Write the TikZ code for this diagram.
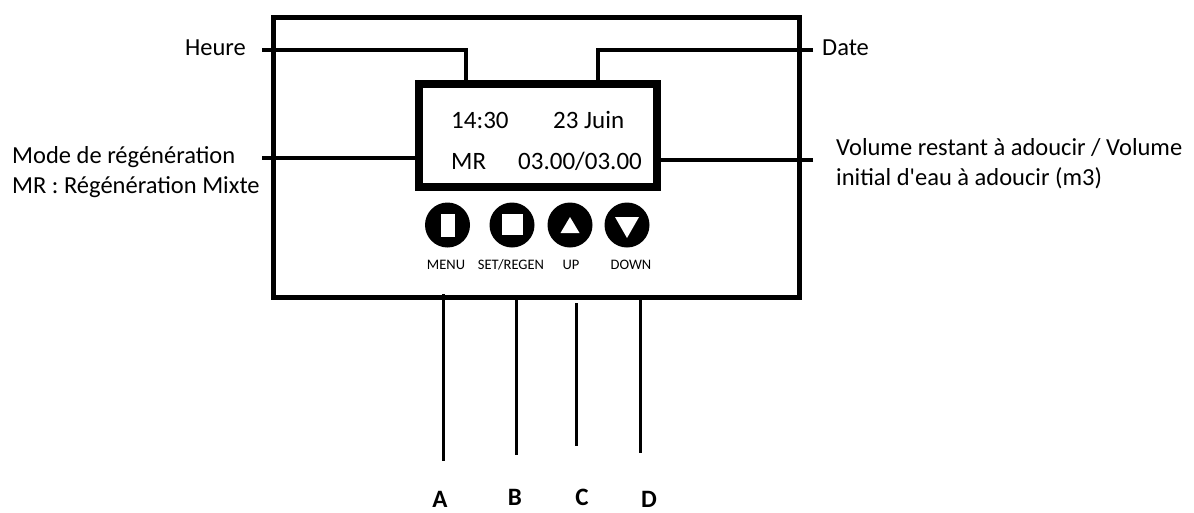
\documentclass[tikz,border=0pt]{standalone}
\usepackage{fontspec}
\setmainfont{Carlito}
\begin{document}
\begin{tikzpicture}[x=1pt,y=-1pt,
  lbl/.style={inner sep=0pt, font=\fontsize{24.5}{30}\selectfont},
  scr/.style={inner sep=0pt, font=\fontsize{25}{30}\selectfont},
  btnlbl/.style={inner sep=0pt, font=\fontsize{14.5}{16}\selectfont},
  letter/.style={inner sep=0pt, font=\fontsize{25}{30}\selectfont\bfseries},
  lead/.style={line width=4pt},
  pin/.style={line width=3pt},
  btn/.style={circle, fill=black, minimum size=45pt, inner sep=0pt}]
\useasboundingbox (0,0) rectangle (1194,512);
% panel
\node[draw, line width=5pt, minimum width=526pt, minimum height=280pt, inner sep=0pt] (panel) at (536,157) {};
% connector end points
\coordinate (hS) at (262,50);
\coordinate (hK) at (466,84);
\coordinate (dS) at (813,50);
\coordinate (dK) at (598,84);
\coordinate (mS) at (262,158);
\coordinate (mK) at (419,158);
\coordinate (vS) at (813,160);
\coordinate (vK) at (657,160);
\draw[lead] (hS) -| (hK);
\draw[lead] (dS) -| (dK);
\draw[lead] (mS) -- (mK);
\draw[lead] (vS) -- (vK);
% display
\node[draw, fill=white, line width=8pt, minimum width=238pt, minimum height=103pt, inner sep=0pt] (disp) at (538,135.5) {};
\node[scr, anchor=base west] (t1) at (451,128) {14:30};
\node[scr, anchor=base west] (t2) at (553,128) {23 Juin};
\node[scr, anchor=base west] (t3) at (451,169) {MR};
\node[scr, anchor=base west] (t4) at (518,169) {03.00/03.00};
% labels
\node[lbl, anchor=base east] (heure) at (246,55) {Heure};
\node[lbl, anchor=base west] (date) at (822,55) {Date};
\node[lbl, anchor=base west] (mode1) at (12,163) {Mode de régénération};
\node[lbl, anchor=base west] (mode2) at (12,193) {MR : Régénération Mixte};
\node[lbl, anchor=base west] (vol1) at (836,155) {Volume restant à adoucir / Volume};
\node[lbl, anchor=base west] (vol2) at (836,185) {initial d\textquotesingle eau à adoucir (m3)};
% buttons
\node[btn] (b1) at (447.5,225) {};
\node[btn] (b2) at (512,225) {};
\node[btn] (b3) at (570,225) {};
\node[btn] (b4) at (627,225) {};
\fill[white] ([shift={(-6.5,-11.5)}]b1.center) rectangle ([shift={(7.5,11.5)}]b1.center);
\fill[white] ([shift={(-10.5,-11)}]b2.center) rectangle ([shift={(10.5,10)}]b2.center);
\fill[white] ([shift={(0,-8)}]b3.center) -- ([shift={(9.5,8)}]b3.center) -- ([shift={(-9.5,8)}]b3.center) -- cycle;
\fill[white] ([shift={(-12,-8)}]b4.center) -- ([shift={(12,-8)}]b4.center) -- ([shift={(0,13)}]b4.center) -- cycle;
\node[btnlbl, anchor=base] (l1) at (446,269) {MENU};
\node[btnlbl, anchor=base] (l2) at (511,269) {SET/REGEN};
\node[btnlbl, anchor=base] (l3) at (571,269) {UP};
\node[btnlbl, anchor=base] (l4) at (631,269) {DOWN};
% pins
\coordinate (pA1) at (443,294);
\coordinate (pA2) at (443,461);
\coordinate (pB1) at (516,296);
\coordinate (pB2) at (516,455);
\coordinate (pC1) at (576,303);
\coordinate (pC2) at (576,446);
\coordinate (pD1) at (640,300);
\coordinate (pD2) at (640,453);
\draw[pin] (pA1) -- (pA2);
\draw[pin] (pB1) -- (pB2);
\draw[pin] (pC1) -- (pC2);
\draw[pin] (pD1) -- (pD2);
\node[letter, anchor=base] (A) at (440,507.5) {A};
\node[letter, anchor=base] (B) at (515,505) {B};
\node[letter, anchor=base] (C) at (582,505) {C};
\node[letter, anchor=base] (D) at (649,507) {D};
\end{tikzpicture}
\end{document}
